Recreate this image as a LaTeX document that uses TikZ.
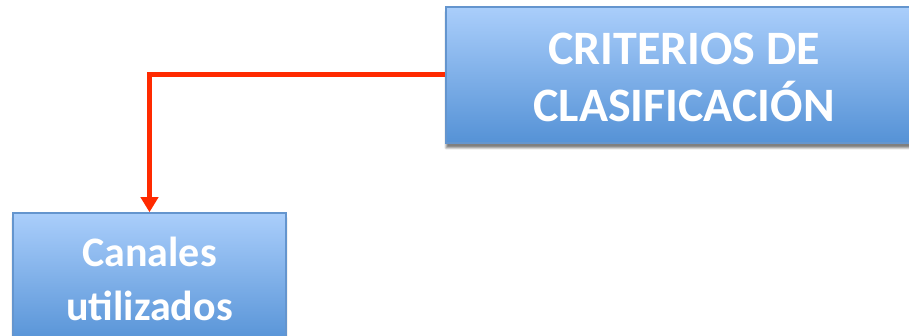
\documentclass[tikz,border=0pt]{standalone}
\usepackage{fontspec}
\setmainfont{Carlito}
\usetikzlibrary{arrows.meta,shadows.blur}
\definecolor{boxtop}{HTML}{AACEFB}
\definecolor{boxbot}{HTML}{5592D6}
\definecolor{boxline}{HTML}{6495CE}
\definecolor{linkred}{HTML}{FF2A00}
\tikzset{
  catbox/.style={draw=boxline, line width=1.5pt, top color=boxtop, bottom color=boxbot,
    align=center, text=white, font=\bfseries, inner sep=0pt,
    blur shadow={shadow xshift=0pt, shadow yshift=-5pt, shadow blur steps=6, shadow opacity=50}},
  link/.style={draw=linkred, line width=5pt, -{Triangle[width=17pt,length=15pt]}}
}
\begin{document}
\begin{tikzpicture}[x=1pt,y=-1pt]
  \useasboundingbox (0,0) rectangle (909,336);
  \node[catbox, minimum width=476pt, minimum height=136pt,
        font=\bfseries\fontsize{48}{57}\selectfont] (crit) at (684,75)
        {\rule{0pt}{37pt}CRITERIOS DE\\CLASIFICACIÓN};
  \node[catbox, minimum width=273pt, minimum height=132pt,
        font=\bfseries\fontsize{42}{54}\selectfont] (canal) at (149.5,279)
        {Canales\\utilizados};
  \draw[link] (crit.west) -| (canal.north);
\end{tikzpicture}
\end{document}
